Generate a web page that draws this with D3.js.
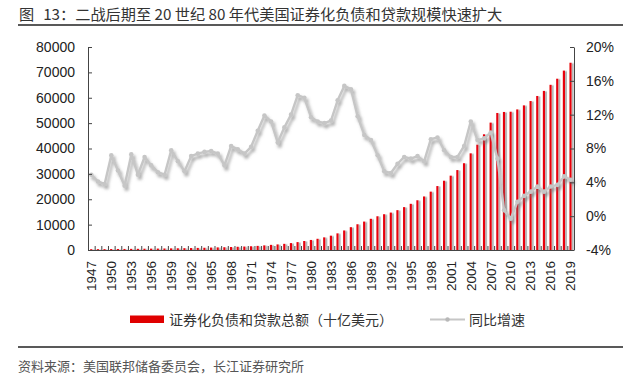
<!DOCTYPE html>
<html><head><meta charset="utf-8">
<script src="https://cdn.jsdelivr.net/npm/d3@7"></script>
<style>
html,body{margin:0;padding:0;background:#fff;}
svg{display:block;}
</style></head>
<body>
<svg id="chart" width="641" height="380"></svg>
<script>
const titleLabel = "图";
const titleText = "13：二战后期至 20 世纪 80 年代美国证券化负债和贷款规模快速扩大";
const sourceText = "资料来源：美国联邦储备委员会，长江证券研究所";
const legendBar = "证券化负债和贷款总额（十亿美元）";
const legendLine = "同比增速";

const years = [1947,1948,1949,1950,1951,1952,1953,1954,1955,1956,1957,1958,1959,1960,1961,1962,1963,1964,1965,1966,1967,1968,1969,1970,1971,1972,1973,1974,1975,1976,1977,1978,1979,1980,1981,1982,1983,1984,1985,1986,1987,1988,1989,1990,1991,1992,1993,1994,1995,1996,1997,1998,1999,2000,2001,2002,2003,2004,2005,2006,2007,2008,2009,2010,2011,2012,2013,2014,2015,2016,2017,2018,2019];

const debtTotal = [330,345,358,384,405,420,451,473,506,537,565,593,639,681,717,768,824,887,955,1026,1088,1178,1271,1365,1477,1626,1819,2023,2199,2430,2722,3113,3549,3960,4420,4980,5650,6560,7700,9000,10150,11200,12300,13300,14100,14750,15700,16900,18200,19600,21100,23000,25200,27300,29300,31500,34200,38100,41500,45600,50200,54000,54400,54500,55400,57000,58700,60700,62700,65100,67500,70700,73800];

const yoyGrowth = [4.9,4.1,3.8,7.2,5.4,3.6,7.3,4.9,7.0,6.0,5.2,4.9,7.8,6.5,5.3,7.1,7.4,7.6,7.7,7.4,6.0,8.3,7.9,7.4,8.2,10.1,11.9,11.2,8.7,10.5,12.0,14.3,14.0,11.7,11.2,11.0,11.3,13.7,15.4,15.0,11.8,9.6,9.0,7.2,5.3,5.1,6.2,7.0,6.8,7.1,6.5,9.1,9.3,7.8,7.0,7.0,8.3,11.2,9.0,9.2,9.9,6.8,0.7,-0.3,1.7,2.4,2.9,3.5,2.9,3.5,3.7,4.7,4.3];

const xTickLabels = [1947,1950,1953,1956,1959,1962,1965,1968,1971,1974,1977,1980,1983,1986,1989,1992,1995,1998,2001,2004,2007,2010,2013,2016,2019];
const leftTicks = [0,10000,20000,30000,40000,50000,60000,70000,80000];
const rightTicks = [-4,0,4,8,12,16,20];

const svg = d3.select("#chart");
const numFont = "'Liberation Sans', Arial, sans-serif";
const cjkFont = "'Noto Sans CJK SC', 'Noto Sans', sans-serif";

const defs = svg.append("defs");
const fl = defs.append("filter").attr("id","lineShadow").attr("x","-10%").attr("y","-10%").attr("width","120%").attr("height","130%");
fl.append("feDropShadow").attr("dx",2).attr("dy",3).attr("stdDeviation",1.7).attr("flood-color","#777").attr("flood-opacity",0.6);
const fb = defs.append("filter").attr("id","barShadow").attr("x","-100%").attr("y","-5%").attr("width","400%").attr("height","110%");
fb.append("feDropShadow").attr("dx",2).attr("dy",0.5).attr("stdDeviation",0.7).attr("flood-color","#888").attr("flood-opacity",0.6);

// title
const tt = svg.append("text").attr("x",19).attr("y",20).attr("font-family",cjkFont).attr("font-size",15.2).attr("fill","#333");
tt.append("tspan").text(titleLabel);
tt.append("tspan").attr("dx",9).text(titleText);
svg.append("line").attr("x1",18).attr("x2",623).attr("y1",25).attr("y2",25).attr("stroke","#222").attr("stroke-width",1.6);

const x = d3.scaleBand().domain(years).range([88,574]).padding(0);
const yL = d3.scaleLinear().domain([0,80000]).range([250,47]);
const yR = d3.scaleLinear().domain([-4,20]).range([250,47]);

// bars
svg.append("g").attr("filter","url(#barShadow)").selectAll("rect").data(years).join("rect")
  .attr("x",(d)=>x(d)+x.bandwidth()/2-1.2)
  .attr("width",2.2)
  .attr("y",(d,i)=>yL(debtTotal[i]))
  .attr("height",(d,i)=>yL(0)-yL(debtTotal[i]))
  .attr("fill","#e8000b");

// line
const line = d3.line().x((d,i)=>x(years[i])+x.bandwidth()/2).y(d=>yR(d));
const lg = svg.append("g").attr("filter","url(#lineShadow)");
lg.append("path").datum(yoyGrowth).attr("d",line).attr("fill","none").attr("stroke","#c6c6c6").attr("stroke-width",2.4).attr("stroke-linejoin","round");
lg.selectAll("circle").data(yoyGrowth).join("circle")
  .attr("cx",(d,i)=>x(years[i])+x.bandwidth()/2).attr("cy",d=>yR(d)).attr("r",2.3).attr("fill","#c6c6c6");

// axes
const axisColor = "#444";
const gl = svg.append("g").attr("transform","translate(88,0)")
  .call(d3.axisLeft(yL).tickValues(leftTicks).tickSize(-4).tickPadding(13).tickFormat(d3.format("d")).tickSizeOuter(0));
gl.selectAll("text").attr("font-family",numFont).attr("font-size",14).attr("fill","#222");
gl.selectAll("line,path").attr("stroke",axisColor);

const gr = svg.append("g").attr("transform","translate(574,0)")
  .call(d3.axisRight(yR).tickValues(rightTicks).tickSize(-4).tickPadding(12).tickFormat(d=>d+"%").tickSizeOuter(0));
gr.selectAll("text").attr("font-family",numFont).attr("font-size",14).attr("fill","#222");
gr.selectAll("line,path").attr("stroke",axisColor);

// bottom axis
const gb = svg.append("g");
gb.append("line").attr("x1",88).attr("x2",574).attr("y1",250.5).attr("y2",250.5).attr("stroke",axisColor);
gb.selectAll("line.tk").data(years.slice(1)).join("line").attr("class","tk")
  .attr("x1",d=>x(d)+0.5).attr("x2",d=>x(d)+0.5).attr("y1",250).attr("y2",246).attr("stroke",axisColor);
gb.selectAll("text").data(xTickLabels).join("text")
  .attr("transform",d=>`translate(${x(d)+x.bandwidth()/2},261) rotate(-90)`)
  .attr("text-anchor","end").attr("dy","0.35em")
  .attr("font-family",numFont).attr("font-size",13.5).attr("fill","#222").text(d=>d);

// legend
const leg = svg.append("g");
leg.append("rect").attr("x",130).attr("y",315.5).attr("width",34).attr("height",7.5).attr("fill","#e00000");
leg.append("text").attr("x",169).attr("y",324.5).attr("font-family",cjkFont).attr("font-size",14).attr("fill","#333").text(legendBar);
leg.append("line").attr("x1",430).attr("x2",465).attr("y1",319.5).attr("y2",319.5).attr("stroke","#c6c6c6").attr("stroke-width",2);
leg.append("circle").attr("cx",447.5).attr("cy",319.5).attr("r",2.2).attr("fill","#b8b8b8");
leg.append("text").attr("x",469).attr("y",324.5).attr("font-family",cjkFont).attr("font-size",14).attr("fill","#333").text(legendLine);

// source
svg.append("line").attr("x1",18).attr("x2",623).attr("y1",347).attr("y2",347).attr("stroke","#222").attr("stroke-width",1.4);
svg.append("text").attr("x",18).attr("y",370.5).attr("font-family",cjkFont).attr("font-size",13).attr("fill","#555").text(sourceText);
</script>
</body></html>
